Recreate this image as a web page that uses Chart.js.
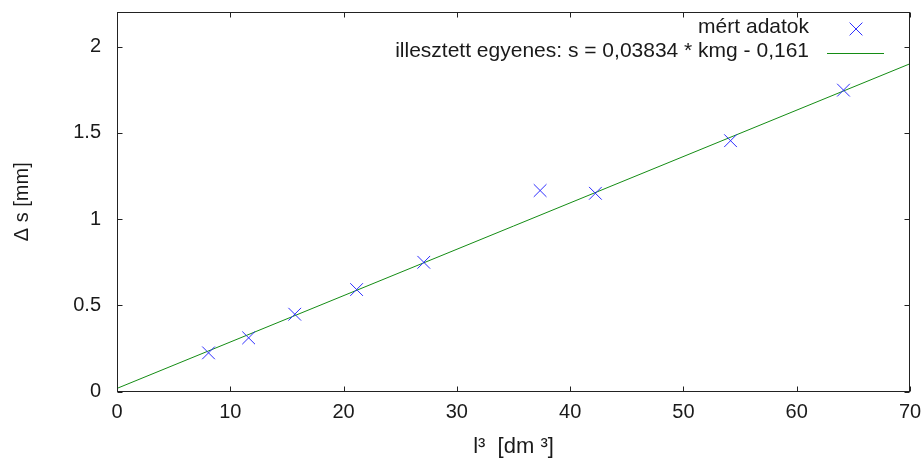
<!DOCTYPE html>
<html>
<head>
<meta charset="utf-8">
<script src="https://cdn.jsdelivr.net/npm/chart.js@4/dist/chart.umd.min.js"></script>
<style>
  html, body { margin: 0; padding: 0; background: #fff; }
  #c { display: block; }
</style>
</head>
<body>
<canvas id="c" width="924" height="461"></canvas>
<script>
// ---- data ----
const measuredX = [8.08, 11.62, 15.69, 21.15, 27.08, 37.35, 42.23, 54.16, 64.13];
const measuredY = [0.224, 0.311, 0.448, 0.591, 0.749, 1.165, 1.149, 1.454, 1.747];
const fitX = [0, 70];
const fitY = [0.018, 1.900];
const legendLabels = ['mért adatok', 'illesztett egyenes: s = 0,03834 * kmg - 0,161'];
const xTitle = 'l³  [dm ³]';
const yTitle = 'Δ s [mm]';
const xMin = 0, xMax = 70, xStep = 10;
const yMin = 0, yMax = 2.2, yStep = 0.5;

const FONT = "'Liberation Sans', Arial, sans-serif";
const TEXT = '#1a1a1a';
const BLUE = 'rgb(45,45,255)';
const GREEN = 'rgb(20,140,20)';

const pts = measuredX.map((x, i) => ({x, y: measuredY[i]}));
const fit = fitX.map((x, i) => ({x, y: fitY[i]}));

const isStep = (v, s) => Math.abs(v / s - Math.round(v / s)) < 1e-6;
const noPad = s => { s.paddingTop = 0; s.paddingBottom = 0; s.paddingLeft = 0; s.paddingRight = 0; };

const framePlugin = {
  id: 'frame',
  afterDraw(chart) {
    const {ctx, chartArea: a, scales} = chart;
    ctx.save();
    ctx.strokeStyle = '#222';
    ctx.lineWidth = 1;
    const L = Math.round(a.left) + 0.5, R = Math.round(a.right) - 0.5;
    const T = Math.round(a.top) + 0.5, B = Math.round(a.bottom) - 0.5;
    ctx.strokeRect(L, T, R - L, B - T);
    const tl = 5;
    ctx.beginPath();
    scales.x.ticks.forEach(t => {
      if (!isStep(t.value, xStep)) return;
      const px = Math.round(scales.x.getPixelForValue(t.value)) + 0.5;
      ctx.moveTo(px, B); ctx.lineTo(px, B - tl);
      ctx.moveTo(px, T); ctx.lineTo(px, T + tl);
    });
    scales.y.ticks.forEach(t => {
      if (!isStep(t.value, yStep)) return;
      const py = Math.round(scales.y.getPixelForValue(t.value)) + 0.5;
      ctx.moveTo(L, py); ctx.lineTo(L + tl, py);
      ctx.moveTo(R, py); ctx.lineTo(R - tl, py);
    });
    ctx.stroke();

    // legend (inside, top right, gnuplot style)
    ctx.font = '21px ' + FONT;
    ctx.fillStyle = TEXT;
    ctx.textAlign = 'right';
    ctx.textBaseline = 'middle';
    const tx = a.right - 101;
    ctx.fillText(legendLabels[0], tx, a.top + 15);
    ctx.fillText(legendLabels[1], tx, a.top + 39);
    // sample cross
    const cx = a.right - 54, cy = a.top + 17, d = 6.4;
    ctx.strokeStyle = BLUE;
    ctx.beginPath();
    ctx.moveTo(cx - d, cy - d); ctx.lineTo(cx + d, cy + d);
    ctx.moveTo(cx - d, cy + d); ctx.lineTo(cx + d, cy - d);
    ctx.stroke();
    // sample line
    ctx.strokeStyle = GREEN;
    ctx.beginPath();
    ctx.moveTo(a.right - 83, a.top + 41.5); ctx.lineTo(a.right - 26, a.top + 41.5);
    ctx.stroke();
    ctx.restore();
  }
};

new Chart(document.getElementById('c'), {
  type: 'scatter',
  data: {
    datasets: [
      {
        label: legendLabels[0],
        data: pts,
        pointStyle: 'crossRot',
        pointRadius: 9,
        pointHoverRadius: 9,
        borderColor: BLUE,
        backgroundColor: BLUE,
        pointBorderWidth: 1,
        showLine: false,
        order: 1
      },
      {
        label: legendLabels[1],
        data: fit,
        showLine: true,
        borderColor: GREEN,
        borderWidth: 1,
        pointRadius: 0,
        fill: false,
        order: 2
      }
    ]
  },
  options: {
    responsive: false,
    animation: false,
    events: [],
    layout: { padding: { top: 12, right: 14, left: 0, bottom: 0 } },
    plugins: { legend: { display: false }, tooltip: { enabled: false } },
    scales: {
      x: {
        type: 'linear',
        min: xMin, max: xMax,
        grid: { display: false, drawTicks: false },
        border: { display: false },
        ticks: {
          stepSize: xStep,
          padding: 9,
          color: TEXT,
          font: { family: FONT, size: 20 },
          maxRotation: 0,
          callback: v => isStep(v, xStep) ? String(v) : ''
        },
        title: {
          display: true, text: xTitle, color: TEXT,
          font: { family: FONT, size: 22 },
          padding: { top: 0, bottom: 1 }
        },
        afterFit: s => { s.height = 69.5; noPad(s); }
      },
      y: {
        type: 'linear',
        min: yMin, max: yMax,
        grid: { display: false, drawTicks: false },
        border: { display: false },
        ticks: {
          stepSize: yStep,
          padding: 16,
          color: TEXT,
          font: { family: FONT, size: 20 },
          callback: v => isStep(v, yStep) ? String(Number(v.toFixed(2))) : ''
        },
        title: {
          display: true, text: yTitle, color: TEXT,
          font: { family: FONT, size: 20 },
          padding: { top: 10, bottom: 0 }
        },
        afterFit: s => { s.width = 117; noPad(s); }
      }
    }
  },
  plugins: [framePlugin]
});
</script>
</body>
</html>
